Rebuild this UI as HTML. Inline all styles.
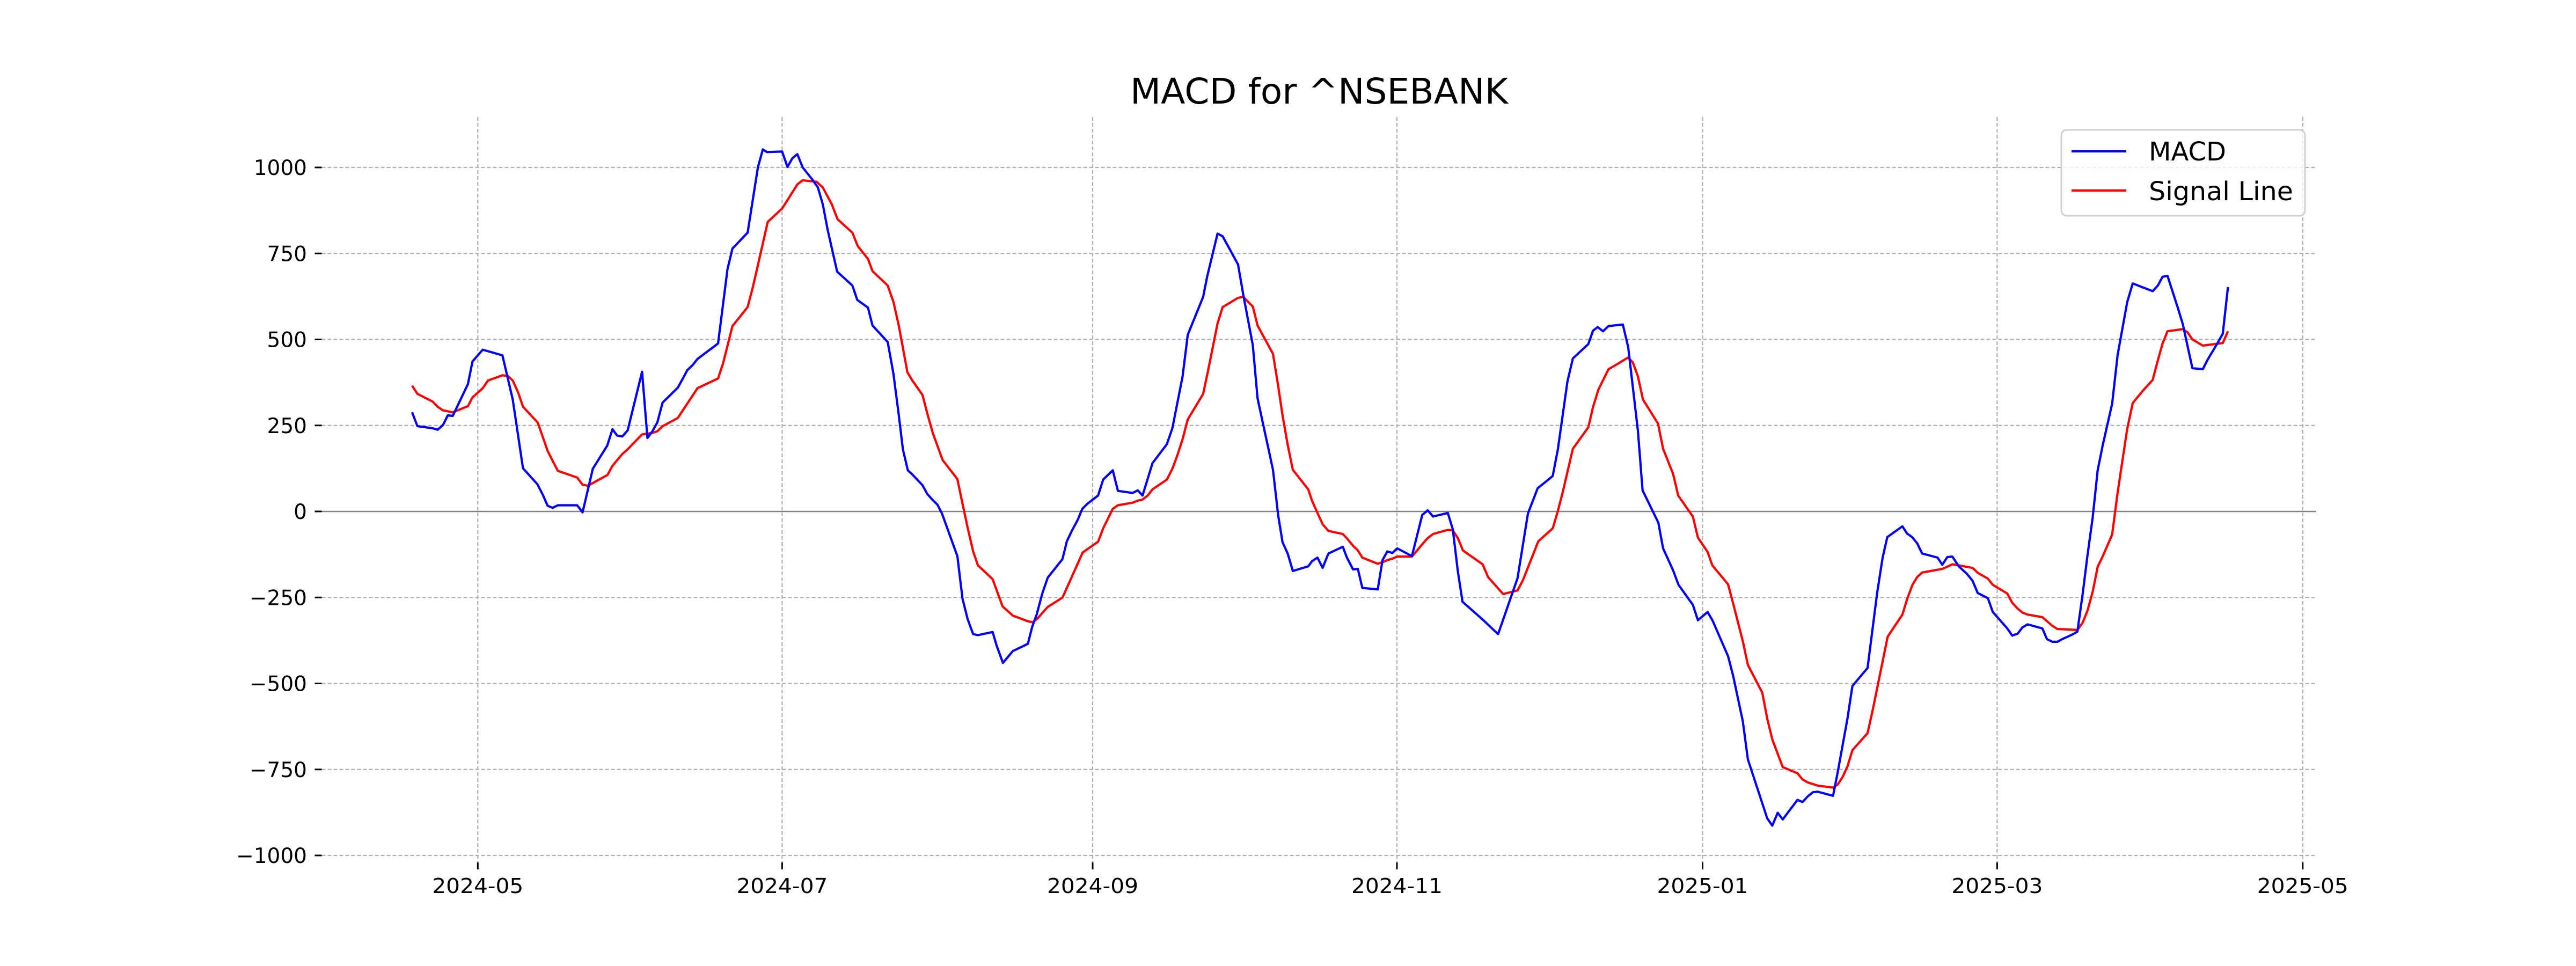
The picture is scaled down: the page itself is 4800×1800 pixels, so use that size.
<!DOCTYPE html>
<html><head><meta charset="utf-8"><style>
html,body{margin:0;padding:0;background:#fff;}
svg{display:block;}
text{font-family:"DejaVu Sans","Liberation Sans",sans-serif;fill:#000;}
</style></head><body>
<svg id="s" width="4800" height="1800" viewBox="0 0 4800 1800" xmlns="http://www.w3.org/2000/svg">
<rect width="4800" height="1800" fill="#fff"/>
<g id="grid"></g>
<g id="ticks"></g>
<polyline id="sig" fill="none" stroke="#ff0000" stroke-width="4.2" stroke-linejoin="round"/>
<polyline id="macd" fill="none" stroke="#0000ff" stroke-width="4.2" stroke-linejoin="round"/>
<text x="2458" y="193" font-size="66" text-anchor="middle" textLength="704" lengthAdjust="spacingAndGlyphs">MACD for ^NSEBANK</text>
<rect x="3841" y="242" width="454" height="160" rx="10" fill="#fff" fill-opacity="0.8" stroke="#d0d0d0" stroke-width="3"/>
<line x1="3860" y1="282" x2="3962" y2="282" stroke="#0000ff" stroke-width="4.2"/>
<line x1="3860" y1="355" x2="3962" y2="355" stroke="#ff0000" stroke-width="4.2"/>
<text x="4004" y="299" font-size="48" textLength="144" lengthAdjust="spacingAndGlyphs">MACD</text>
<text x="4004" y="373" font-size="48" textLength="269" lengthAdjust="spacingAndGlyphs">Signal Line</text>
</svg>
<script>
var NS="http://www.w3.org/2000/svg";
function el(t,a,p,txt){var e=document.createElementNS(NS,t);for(var k in a)e.setAttribute(k,a[k]);if(txt!==undefined)e.textContent=txt;p.appendChild(e);return e;}
var g=document.getElementById('grid'),tk=document.getElementById('ticks');
var L=599.5,R=4316,T=218,B=1607;
function Y(v){return 953-v*0.641;}
var xs=[[890.3,"2024-05"],[1457.4,"2024-07"],[2036,"2024-09"],[2603,"2024-11"],[3172.5,"2025-01"],[3721.4,"2025-03"],[4290.8,"2025-05"]];
xs.forEach(function(p){
 el('line',{x1:p[0],y1:T,x2:p[0],y2:B,stroke:"#b0b0b0","stroke-width":2.2,"stroke-dasharray":"7,4"},g);
 el('line',{x1:p[0],y1:B,x2:p[0],y2:B+13,stroke:"#000","stroke-width":3},tk);
 el('text',{x:p[0],y:1664,"font-size":38,"text-anchor":"middle",textLength:170,lengthAdjust:"spacingAndGlyphs"},tk,p[1]);
});
for(var v=-1000;v<=1000;v+=250){
 var y=Y(v);
 if(v!==0)el('line',{x1:L,y1:y,x2:R,y2:y,stroke:"#b0b0b0","stroke-width":2.2,"stroke-dasharray":"7,4"},g);
 el('line',{x1:L-13,y1:y,x2:L,y2:y,stroke:"#000","stroke-width":3},tk);
 el('text',{x:572,y:y+14,"font-size":39,"text-anchor":"end"},tk,(v<0?"\u2212":"")+Math.abs(v));
}
el('line',{x1:L,y1:Y(0),x2:R,y2:Y(0),stroke:"#808080","stroke-width":2.5},g);
function tr(arr,x0,sx){return arr.map(function(p){return [x0+p[0]*sx,180+p[1]*0.9566];});}
var m1=[[350,615],[363,642],[400,646],[412,649],[425,640],[437,621],[449,622],[486,560],[497,516],[522,493],[570,504],[595,590],[620,724],[655,755],[668,775],[680,797],[692,801],[705,796],[752,796],[765,810],[790,725],[825,680],[838,648],[849,660],[862,662],[875,650],[910,536],[923,665],[935,652],[947,635],[960,596],[997,567],[1010,548],[1020,533],[1033,523],[1045,511],[1095,481],[1118,336],[1130,296],[1167,265],[1192,138],[1204,103],[1214,108],[1251,107],[1264,137],[1276,120],[1288,112],[1301,138],[1325,162],[1338,177],[1350,210],[1362,260],[1385,341],[1422,368],[1434,396],[1460,411],[1471,446],[1508,478],[1522,540],[1535,620],[1545,687],[1557,728],[1568,736]];
var s1=[[350,563],[363,579],[400,594],[412,604],[425,611],[449,615],[486,603],[497,586],[522,568],[535,553],[570,543],[583,544],[595,553],[608,576],[620,604],[656,635],[680,690],[693,711],[705,729],[752,742],[765,756],[778,758],[826,737],[838,719],[862,696],[875,687],[910,658],[935,655],[947,652],[960,642],[997,626],[1045,568],[1095,549],[1107,520],[1130,447],[1167,410],[1180,370],[1216,244],[1251,218],[1270,194],[1288,171],[1301,163],[1335,166],[1350,177],[1372,210],[1386,239],[1422,265],[1435,291],[1460,316],[1471,340],[1508,368],[1522,400],[1535,446],[1556,537],[1568,553]];
var m3=[[108,757],[122,774],[138,786],[152,795],[165,812],[210,895],[225,978],[240,1018],[256,1047],[270,1049],[313,1043],[325,1070],[343,1103],[372,1080],[416,1066],[428,1034],[442,1008],[458,968],[474,937],[517,901],[530,866],[545,845],[562,824],[575,803],[590,793],[621,777],[636,746],[664,728],[679,768],[722,772],[737,767],[751,777],[780,714],[822,677],[838,646],[868,545],[883,464],[928,390],[940,350],[970,267],[985,272],[1030,327],[1045,385],[1073,484],[1087,588],[1132,727],[1147,815],[1160,868],[1175,890],[1190,924],[1235,915],[1246,905],[1262,898],[1277,918],[1294,890],[1336,877],[1348,898],[1366,921],[1380,920],[1393,957],[1438,960],[1452,903],[1466,886],[1481,889],[1495,880],[1538,895],[1568,815]];
var s3=[[108,581],[122,617],[138,655],[167,708],[210,745],[225,793],[240,840],[256,886],[270,913],[313,940],[342,993],[372,1011],[416,1022],[430,1024],[445,1016],[458,1006],[474,994],[517,976],[546,933],[576,888],[621,867],[636,841],[664,803],[679,796],[722,791],[737,787],[751,785],[766,777],[780,765],[822,746],[838,725],[852,700],[868,667],[883,629],[928,579],[942,535],[970,442],[985,410],[1030,392],[1045,390],[1073,409],[1087,446],[1132,501],[1147,563],[1160,621],[1175,678],[1190,727],[1235,765],[1246,787],[1262,811],[1277,833],[1294,846],[1336,852],[1350,862],[1366,875],[1380,884],[1393,898],[1438,910],[1452,907],[1466,903],[1481,900],[1495,896],[1538,896],[1568,872]];
var m4=[[90,806],[105,818],[146,811],[160,843],[174,925],[187,984],[245,1020],[286,1047],[340,938],[369,812],[396,763],[438,739],[452,688],[479,555],[494,510],[537,482],[550,456],[563,449],[578,457],[593,447],[633,444],[648,488],[675,651],[688,767],[732,830],[745,880],[773,923],[788,951],[828,990],[842,1020],[869,1004],[883,1021],[926,1090],[940,1128],[967,1217],[981,1291],[1035,1406],[1049,1420],[1064,1395],[1078,1408],[1119,1370],[1133,1374],[1148,1363],[1162,1355],[1175,1354],[1218,1362],[1230,1320],[1258,1212],[1272,1148],[1314,1113],[1341,966],[1356,898],[1369,858],[1411,837],[1424,851],[1438,858],[1452,870],[1466,890],[1509,898],[1522,912],[1536,897],[1550,896],[1568,915]];
var s4=[[90,860],[105,852],[146,844],[160,845],[174,860],[188,884],[243,911],[258,936],[300,969],[340,962],[355,942],[398,866],[438,841],[452,808],[466,770],[494,686],[537,644],[550,605],[565,571],[593,531],[620,520],[648,508],[661,518],[675,545],[689,590],[731,637],[745,686],[773,735],[787,777],[828,818],[842,859],[869,887],[882,913],[926,950],[941,990],[967,1061],[981,1107],[1021,1161],[1035,1212],[1049,1252],[1078,1306],[1119,1318],[1133,1330],[1148,1336],[1175,1342],[1218,1346],[1231,1340],[1244,1326],[1258,1305],[1272,1273],[1314,1240],[1329,1193],[1370,1052],[1411,1009],[1425,977],[1439,951],[1452,936],[1466,927],[1522,920],[1550,911],[1568,913]];
var m2=[[128,930],[148,943],[167,967],[204,977],[222,1004],[275,1036],[293,1050],[313,1046],[330,1034],[349,1028],[403,1036],[420,1057],[440,1062],[458,1062],[475,1057],[512,1048],[531,1042],[550,970],[568,893],[587,819],[605,728],[623,680],[658,598],[678,503],[713,400],[733,364],[806,379],[825,368],[842,351],[860,349],[897,410],[916,443],[933,485],[951,529],[989,531],[1006,513],[1043,480],[1062,462],[1081,371]];
var s2=[[148,918],[168,928],[204,939],[222,951],[275,968],[293,986],[312,997],[330,1005],[349,1009],[403,1014],[420,1022],[440,1031],[458,1037],[531,1039],[550,1025],[568,1001],[587,964],[605,916],[623,896],[658,853],[678,771],[713,647],[733,597],[770,573],[806,552],[822,519],[842,481],[860,457],[916,453],[933,459],[951,473],[989,485],[1062,480],[1081,457]];
function pts(a){return a.map(function(p){return p[0].toFixed(1)+","+p[1].toFixed(1);}).join(" ");}
var M=[].concat(tr(m1,500,0.7653),tr(m3,1650,0.6378),tr(m4,2600,0.6696),tr(m2,3600,0.5102));
var S=[].concat(tr(s1,500,0.7653),tr(s3,1650,0.6378),tr(s4,2600,0.6696),tr(s2,3600,0.5102));
document.getElementById('macd').setAttribute('points',pts(M));
document.getElementById('sig').setAttribute('points',pts(S));
</script>
</body></html>
